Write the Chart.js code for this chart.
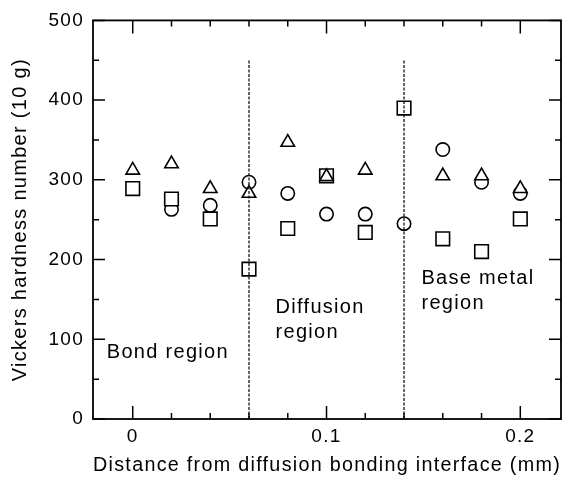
<!DOCTYPE html>
<html>
<head>
<meta charset="utf-8">
<script src="https://cdn.jsdelivr.net/npm/chart.js@4.4.1/dist/chart.umd.min.js"></script>
<style>
html, body { margin: 0; padding: 0; background: #fff; }
canvas { display: block; }
</style>
</head>
<body>
<canvas id="c" width="573" height="477"></canvas>
<script>
// ---- data ----
const distances = [0, 0.02, 0.04, 0.06, 0.08, 0.10, 0.12, 0.14, 0.16, 0.18, 0.20];
const triangleHardness = [312, 320, 289, 283, 347, 304, 312, null, 305, 305, 289];
const squareHardness   = [289, 276, 251, 188, 239, 305, 234, 390, 226, 210, 251];
const circleHardness   = [null, 263, 268, 297, 283, 257, 257, 245, 338, 297, 283];
const boundaryDistances = [0.06, 0.14];
const boundaryRange = [0, 450];
const yTickValues = [0, 100, 200, 300, 400, 500];
const yMinorTickValues = [50, 150, 250, 350, 450];
const xTickValues = [0, 0.1, 0.2];
const xMinorTickValues = [0.02, 0.04, 0.06, 0.08, 0.12, 0.14, 0.16, 0.18];
const xTitle = 'Distance from diffusion bonding interface (mm)';
const yTitle = 'Vickers hardness number (10 g)';
const regionNames = [['Bond region'], ['Diffusion', 'region'], ['Base metal', 'region']];

// ---- annotation anchors (data units) ----
const regionAnchors = [
  { x: -0.0134, y: 76 },
  { x: 0.0737, y: 132.5 },
  { x: 0.149, y: 169.6 }
];

const FONT = "'Liberation Sans', Arial, Helvetica, sans-serif";
const INK = '#000';
const SPACING = '1.3px';

const spacingPlugin = {
  id: 'spacing',
  beforeInit(chart) { chart.ctx.letterSpacing = SPACING; },
  beforeUpdate(chart) { chart.ctx.letterSpacing = SPACING; },
  beforeLayout(chart) { chart.ctx.letterSpacing = SPACING; },
  beforeDraw(chart) { chart.ctx.letterSpacing = SPACING; }
};

const framePlugin = {
  id: 'frame',
  afterDraw(chart) {
    const { ctx, chartArea: a, scales: { x, y } } = chart;
    ctx.save();
    ctx.strokeStyle = INK;
    ctx.lineWidth = 1.8;
    ctx.strokeRect(a.left, a.top, a.right - a.left, a.bottom - a.top);
    ctx.lineWidth = 1.5;
    ctx.beginPath();
    const yTicks = (vals, len) => vals.forEach(v => {
      const py = y.getPixelForValue(v);
      ctx.moveTo(a.left, py); ctx.lineTo(a.left + len, py);
      ctx.moveTo(a.right, py); ctx.lineTo(a.right - len, py);
    });
    const xTicks = (vals, len) => vals.forEach(v => {
      const px = x.getPixelForValue(v);
      ctx.moveTo(px, a.bottom); ctx.lineTo(px, a.bottom - len);
      ctx.moveTo(px, a.top); ctx.lineTo(px, a.top + len);
    });
    yTicks(yTickValues, 12); yTicks(yMinorTickValues, 6);
    xTicks(xTickValues, 13); xTicks(xMinorTickValues, 6);
    ctx.stroke();

    ctx.fillStyle = INK;
    ctx.font = '20px ' + FONT;
    ctx.textAlign = 'left';
    ctx.textBaseline = 'alphabetic';
    regionNames.forEach((lines, k) => {
      const px = x.getPixelForValue(regionAnchors[k].x);
      const py = y.getPixelForValue(regionAnchors[k].y);
      lines.forEach((t, i) => ctx.fillText(t, px, py + i * 25));
    });
    ctx.restore();
  }
};

const markerStyle = { borderColor: INK, backgroundColor: '#fff', borderWidth: 1.6 };
const toPoints = vals => distances.map((d, i) => ({ x: d, y: vals[i] }));

const datasets = [];
boundaryDistances.forEach((bx, k) => datasets.push({
  label: 'Boundary ' + (k + 1),
  data: boundaryRange.map(v => ({ x: bx, y: v })),
  showLine: true, pointRadius: 0, borderColor: '#000', borderWidth: 1.2,
  borderDash: [3, 1.5], order: 0
}));
datasets.push(Object.assign({ label: 'Triangle', data: toPoints(triangleHardness), pointStyle: 'triangle', pointRadius: 7.8, order: 1 }, markerStyle));
datasets.push(Object.assign({ label: 'Square', data: toPoints(squareHardness), pointStyle: 'rect', pointRadius: 9.6, order: 2 }, markerStyle));
datasets.push(Object.assign({ label: 'Circle', data: toPoints(circleHardness), pointStyle: 'circle', pointRadius: 6.7, order: 3 }, markerStyle));

const tickFont = { family: FONT, size: 19 };
const titleFont = { family: FONT, size: 20 };

new Chart(document.getElementById('c').getContext('2d'), {
  type: 'scatter',
  data: { datasets },
  options: {
    responsive: false,
    animation: false,
    events: [],
    layout: { padding: { left: 0, right: 12, top: 19, bottom: 0 } },
    plugins: { legend: { display: false }, tooltip: { enabled: false } },
    scales: {
      x: {
        type: 'linear', min: -0.0205, max: 0.221,
        afterBuildTicks: s => { s.ticks = xTickValues.map(v => ({ value: v })); },
        afterFit: s => { s.height = 58; },
        ticks: { font: tickFont, color: INK, padding: 6, maxRotation: 0, autoSkip: false, callback: v => String(v) },
        grid: { display: false, drawTicks: false },
        border: { display: false },
        title: { display: true, text: xTitle, font: titleFont, color: INK, padding: { top: 0, bottom: 0 } }
      },
      y: {
        type: 'linear', min: 0, max: 500,
        afterBuildTicks: s => { s.ticks = yTickValues.map(v => ({ value: v })); },
        afterFit: s => { s.width = 93; },
        ticks: { font: tickFont, color: INK, padding: 9, callback: v => String(v) },
        grid: { display: false, drawTicks: false },
        border: { display: false },
        title: { display: true, text: yTitle, font: titleFont, color: INK, padding: { top: 8, bottom: 0 } }
      }
    }
  },
  plugins: [spacingPlugin, framePlugin]
});
</script>
</body>
</html>
